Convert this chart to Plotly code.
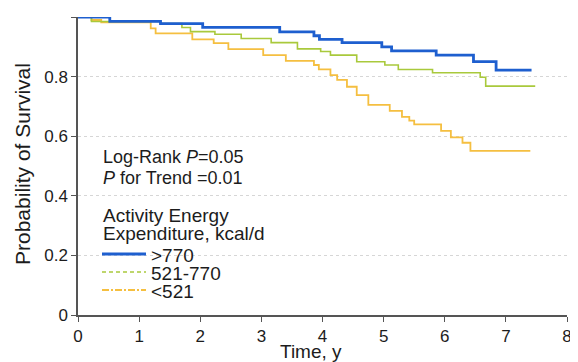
import plotly.graph_objects as go

# Kaplan-Meier step data
t_high = [0, 0.52, 1.35, 2.04, 3.3, 3.86, 3.95, 4.32, 4.97, 5.13, 5.86, 6.47, 6.84, 7.42]
s_high = [1.0, 0.985, 0.978, 0.965, 0.95, 0.937, 0.925, 0.914, 0.90, 0.886, 0.872, 0.85, 0.822, 0.822]

t_mid = [0, 0.22, 1.35, 1.7, 1.84, 2.24, 2.67, 3.16, 3.59, 3.97, 4.13, 4.56, 5.02, 5.24, 5.8, 6.58, 6.67, 7.48]
s_mid = [1.0, 0.985, 0.978, 0.965, 0.951, 0.942, 0.928, 0.914, 0.893, 0.884, 0.872, 0.85, 0.839, 0.824, 0.813, 0.798, 0.768, 0.768]

t_low = [0, 0.22, 0.38, 1.19, 1.27, 1.87, 2.22, 2.46, 3.03, 3.4, 3.86, 3.94, 4.13, 4.24, 4.4, 4.56, 4.75,
         5.1, 5.3, 5.42, 5.5, 5.94, 6.1, 6.29, 6.42, 7.4]
s_low = [1.0, 0.99, 0.982, 0.962, 0.945, 0.925, 0.912, 0.892, 0.872, 0.853, 0.839, 0.824, 0.805, 0.789, 0.766,
         0.738, 0.705, 0.685, 0.665, 0.652, 0.64, 0.618, 0.596, 0.578, 0.551, 0.551]

group_names = ["&gt;770", "521-770", "&lt;521"]
colors = ["#1e5fcf", "#a9c93c", "#f5bf40"]
widths = [2.8, 1.6, 1.8]
legend_dashes = ["solid", "4px,3px", "7px,2px,2px,2px"]

x_ticks = [0, 1, 2, 3, 4, 5, 6, 7, 8]
y_ticks = [0, 0.2, 0.4, 0.6, 0.8, 1.0]
y_ticklabels = ["0", "0.2", "0.4", "0.6", "0.8", "1.0"]
y_grid = [0.2, 0.4, 0.6, 0.8]

stats_lines = ["Log-Rank <i>P</i>=0.05", "<i>P</i> for Trend =0.01"]
legend_title_lines = ["Activity Energy", "Expenditure, kcal/d"]

FONT = "Liberation Sans, Arial, sans-serif"
TXT = "#1c1c1c"

# page body has an 8px default margin; compensate so the plot lands where the reference has it
OFF = 8
W, H = 578, 362
X0, X1, Y0, Y1 = 78, 567, 17, 315          # plot area in window pixels
FW, FH = W - OFF, H - OFF
ML, MT = X0 - OFF, Y0 - OFF
MR, MB = W - X1, H - Y1
PW, PH = X1 - X0, Y1 - Y0


def px(x):
    return (x - X0) / PW


def py(y):
    return (Y1 - y) / PH


fig = go.Figure()
for t, s, c, w in [(t_low, s_low, colors[2], widths[2]), (t_mid, s_mid, colors[1], widths[1]),
                   (t_high, s_high, colors[0], widths[0])]:
    fig.add_trace(go.Scatter(x=t, y=s, mode="lines", line=dict(color=c, width=w, shape="hv"),
                             showlegend=False, cliponaxis=False, hoverinfo="skip"))

# dummy trace so that the grid-only overlay axis is drawn
fig.add_trace(go.Scatter(x=[None], y=[None], yaxis="y2", showlegend=False, hoverinfo="skip"))

fig.update_layout(
    width=FW, height=FH,
    margin=dict(l=ML, r=MR, t=MT, b=MB),
    paper_bgcolor="white", plot_bgcolor="white",
    font=dict(family=FONT, size=17, color=TXT),
    showlegend=False,
    xaxis=dict(
        range=[0, 8], tickvals=x_ticks, ticks="outside", ticklen=5, tickcolor="#555",
        showline=True, linecolor="#555", linewidth=1.5, showgrid=False, zeroline=False,
        tickfont=dict(size=17, color=TXT), automargin=False,
    ),
    yaxis=dict(
        range=[0, 1.0], tickvals=y_ticks, ticktext=y_ticklabels, ticks="outside", ticklen=5,
        tickcolor="#555", showline=True, linecolor="#555", linewidth=1.5,
        showgrid=False, zeroline=False, tickfont=dict(size=17, color=TXT), automargin=False,
    ),
    yaxis2=dict(
        range=[0, 1.0], overlaying="y", side="left", tickvals=y_grid, showticklabels=False,
        ticks="", showline=False, showgrid=True, gridcolor="#d6d6d6", griddash="dot",
        gridwidth=1, zeroline=False, automargin=False, layer="below traces",
    ),
)

# axis titles
fig.add_annotation(xref="paper", yref="paper", x=px(311), y=py(351), text="Time, y",
                   showarrow=False, xanchor="center", yanchor="middle",
                   font=dict(size=19, family=FONT, color=TXT))
fig.add_annotation(xref="paper", yref="paper", x=px(22), y=py(164), text="Probability of Survival",
                   textangle=-90, showarrow=False, xanchor="center", yanchor="middle",
                   font=dict(size=21, family=FONT, color=TXT))

# statistics text
for i, line in enumerate(stats_lines):
    fig.add_annotation(xref="paper", yref="paper", x=px(101), y=py(157 + 21 * i), text=line,
                       showarrow=False, xanchor="left", yanchor="middle",
                       font=dict(size=18, family=FONT, color=TXT))

# legend title
for i, line in enumerate(legend_title_lines):
    fig.add_annotation(xref="paper", yref="paper", x=px(101), y=py(215 + 18 * i), text=line,
                       showarrow=False, xanchor="left", yanchor="middle",
                       font=dict(size=19, family=FONT, color=TXT))

# legend entries
for i, (name, c, w, d) in enumerate(zip(group_names, colors, widths, legend_dashes)):
    yy = py(254 + 18 * i)
    fig.add_shape(type="line", xref="paper", yref="paper", x0=px(102), x1=px(146), y0=yy, y1=yy,
                  line=dict(color=c, width=w, dash=d))
    fig.add_annotation(xref="paper", yref="paper", x=px(149), y=py(255 + 18 * i), text=name,
                       showarrow=False, xanchor="left", yanchor="middle",
                       font=dict(size=19, family=FONT, color=TXT))

fig.write_html("out.html")
